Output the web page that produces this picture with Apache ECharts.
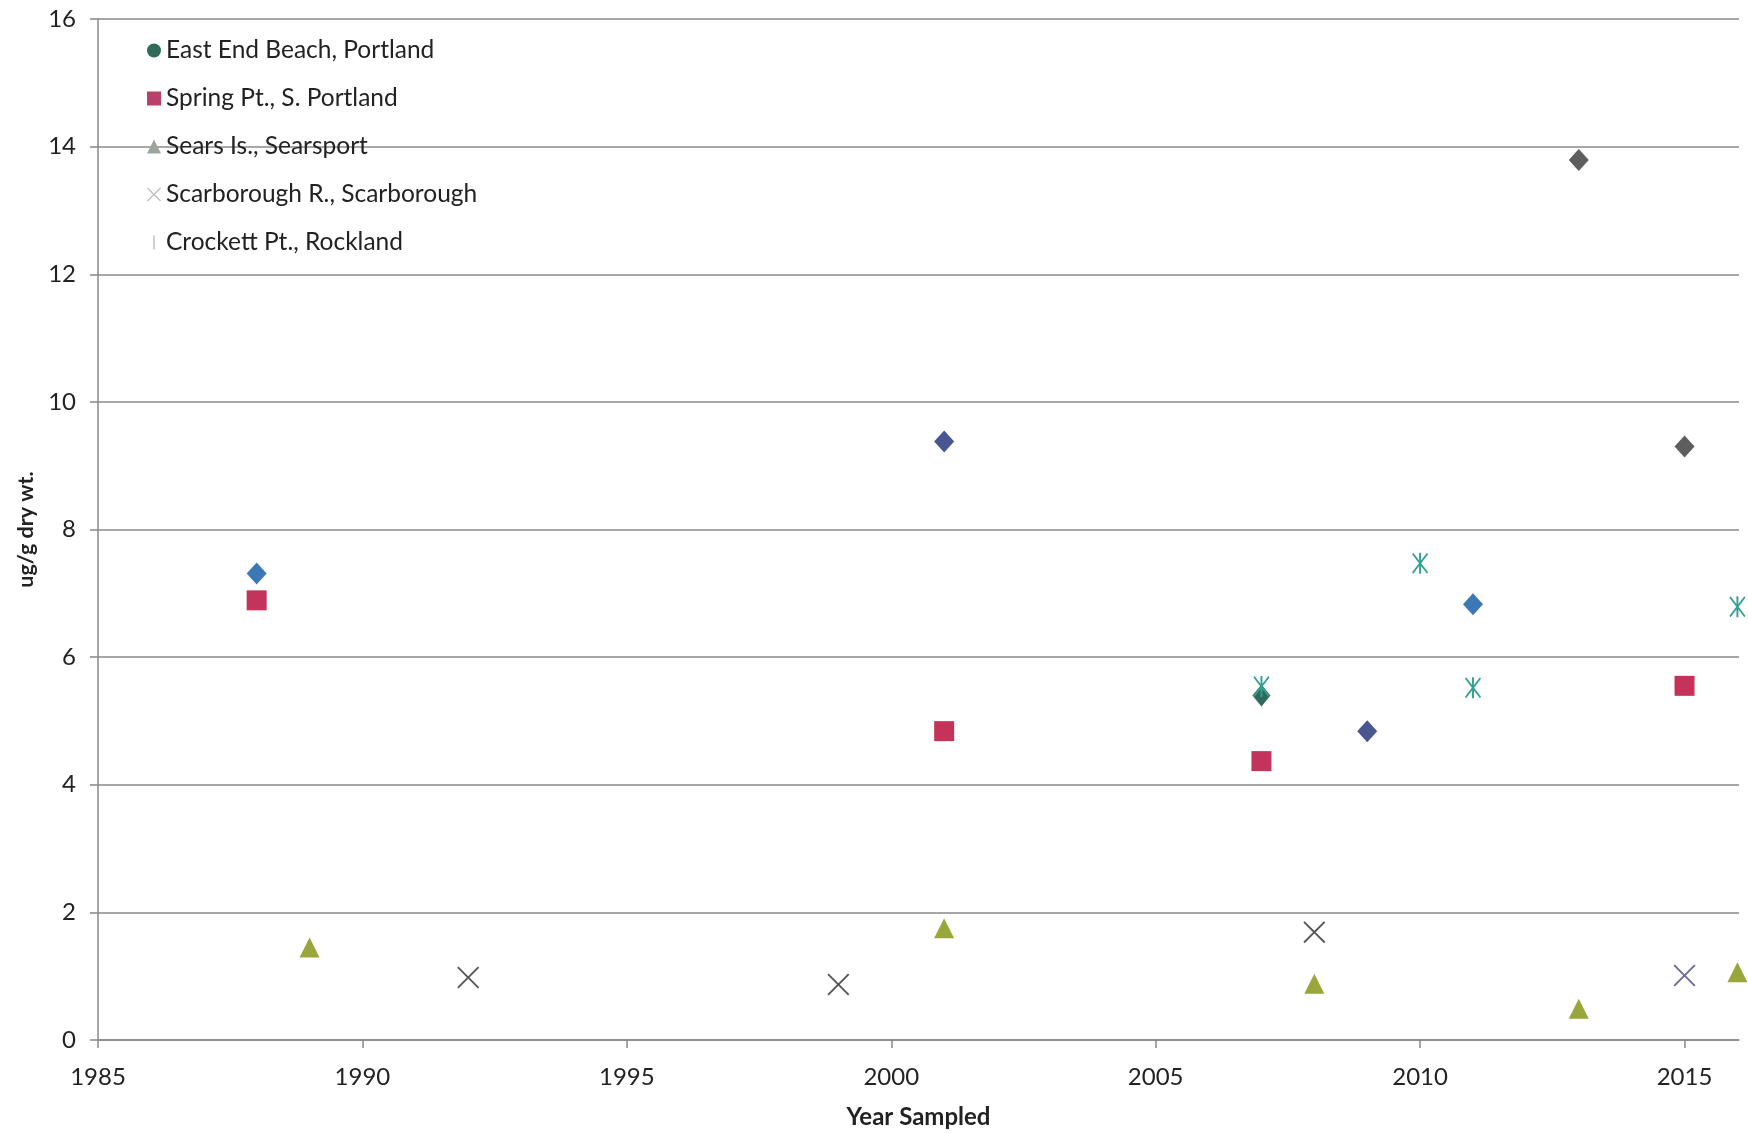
<!DOCTYPE html>
<html>
<head>
<meta charset="utf-8">
<script src="https://cdn.jsdelivr.net/npm/echarts@6/dist/echarts.min.js"></script>
<style>
html,body{margin:0;padding:0;background:#fff;}
#chart{width:1748px;height:1134px;}
</style>
</head>
<body>
<div id="chart"></div>
<script>
// ---- data ----
const xTickLabels = [1985, 1990, 1995, 2000, 2005, 2010, 2015];
const yTickLabels = [0, 2, 4, 6, 8, 10, 12, 14, 16];
const legendNames = ["East End Beach, Portland", "Spring Pt., S. Portland", "Sears Is., Searsport", "Scarborough R., Scarborough", "Crockett Pt., Rockland"];

const eastEndBeach = [[2007, 5.40]];
const springPt = [[1988, 6.89], [2001, 4.84], [2007, 4.37], [2015, 5.55]];
const searsIs = [[1989, 1.45], [2001, 1.75], [2008, 0.88], [2013, 0.49], [2016, 1.06]];
const scarboroughR = [[1992, 0.98], [1999, 0.87], [2008, 1.69]];
const crockettPt = [[2007, 5.54], [2010, 7.47], [2011, 5.52], [2016, 6.79]];
const blueDiamonds = [[1988, 7.31], [2011, 6.83]];
const indigoDiamonds = [[2001, 9.38], [2009, 4.84]];
const grayDiamonds = [[2013, 13.79], [2015, 9.30]];
const purpleCross = [[2015, 1.01]];

// ---- styling ----
const X_PATH = 'path://M0,6 L6,0 L50,44 L94,0 L100,6 L56,50 L100,94 L94,100 L50,56 L6,100 L0,94 L44,50 Z';
const STAR_PATH = 'path://M0,7 L7,0 L50,43 L93,0 L100,7 L57,50 L100,93 L93,100 L50,57 L7,100 L0,93 L43,50 Z M44,0 L56,0 L56,100 L44,100 Z';
const BAR_PATH = 'path://M44,0 L56,0 L56,100 L44,100 Z';
const FONT = 'Lato, "Open Sans", sans-serif';

function sc(name, data, symbol, size, color, z) {
  return {
    type: 'scatter', name: name, data: data, symbol: symbol, symbolSize: size,
    itemStyle: { color: color, opacity: 1 }, z: z || 2, silent: true,
    emphasis: { disabled: true }
  };
}

const chart = echarts.init(document.getElementById('chart'), null, { renderer: 'canvas' });
chart.setOption({
  animation: false,
  backgroundColor: '#ffffff',
  grid: { left: 98, right: 9, top: 19, bottom: 91, containLabel: false },
  legend: {
    orient: 'vertical', left: 142, top: 33, itemWidth: 14, itemHeight: 14, itemGap: 23,
    textStyle: { fontFamily: FONT, fontSize: 24.5, color: '#222' },
    selectedMode: false,
    data: [
      { name: legendNames[0], icon: 'circle', itemStyle: { color: '#2F6B58' } },
      { name: legendNames[1], icon: 'rect', itemStyle: { color: '#B8406A' } },
      { name: legendNames[2], icon: 'triangle', itemStyle: { color: '#9BA79D' } },
      { name: legendNames[3], icon: X_PATH, itemStyle: { color: '#B5B5B5' } },
      { name: legendNames[4], icon: BAR_PATH, itemStyle: { color: '#C8C8C8' } }
    ]
  },
  xAxis: {
    type: 'value', min: 1985, max: 2016.03, interval: 5,
    name: 'Year Sampled', nameLocation: 'middle', nameGap: 65,
    nameTextStyle: { fontFamily: FONT, fontSize: 24, fontWeight: 'bold', color: '#222' },
    axisLine: { show: true, lineStyle: { color: '#888', width: 1.5 } },
    axisTick: { show: true, length: 8, lineStyle: { color: '#888', width: 1.5 }, customValues: xTickLabels },
    axisLabel: { fontFamily: FONT, fontSize: 24, color: '#222', margin: 25, customValues: xTickLabels,
                 formatter: function (v) { return String(v); } },
    splitLine: { show: false }
  },
  yAxis: {
    type: 'value', min: 0, max: 16, interval: 2,
    name: 'ug/g dry wt.', nameLocation: 'middle', nameGap: 59, nameRotate: 90,
    nameTextStyle: { fontFamily: FONT, fontSize: 21.5, fontWeight: 'bold', color: '#222' },
    axisLine: { show: true, lineStyle: { color: '#888', width: 1.5 } },
    axisTick: { show: true, length: 8, lineStyle: { color: '#888', width: 1.5 } },
    axisLabel: { fontFamily: FONT, fontSize: 24, color: '#222', margin: 22, customValues: yTickLabels,
                 formatter: function (v) { return String(v); } },
    splitLine: { show: true, lineStyle: { color: '#8a8a8a', width: 1.5 } }
  },
  series: [
    sc(legendNames[0], eastEndBeach, 'diamond', [18, 22], '#2F6B58', 3),
    sc(legendNames[1], springPt, 'rect', [20, 20], '#C4345A', 3),
    sc(legendNames[2], searsIs, 'triangle', [20, 20], '#98A63C', 3),
    sc(legendNames[3], scarboroughR, X_PATH, [22, 22], '#555555', 3),
    sc(legendNames[4], crockettPt, STAR_PATH, [16, 21], '#34A094', 4),
    sc('s6', blueDiamonds, 'diamond', [20, 22], '#3D78B6', 3),
    sc('s7', indigoDiamonds, 'diamond', [20, 22], '#4A5690', 3),
    sc('s8', grayDiamonds, 'diamond', [20, 22], '#5E5E5E', 3),
    sc('s9', purpleCross, X_PATH, [22, 22], '#6A6A9C', 3)
  ]
});
</script>
</body>
</html>
